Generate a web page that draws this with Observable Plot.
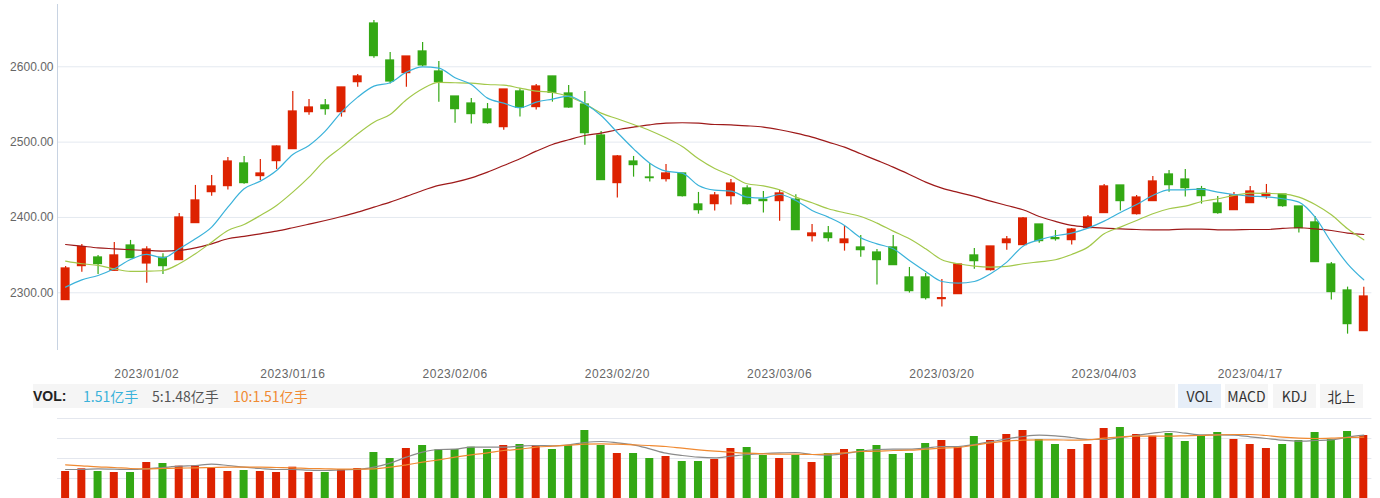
<!DOCTYPE html>
<html><head><meta charset="utf-8">
<script src="https://cdn.jsdelivr.net/npm/d3@7"></script>
<script src="https://cdn.jsdelivr.net/npm/@observablehq/plot@0.6"></script>
<style>
body{margin:0;background:#fff;font-family:"Liberation Sans",Arial,sans-serif;}
#wrap{position:relative;width:1380px;height:498px;overflow:hidden;background:#fff;}
#main{position:absolute;left:0;top:0;}
#vol{position:absolute;left:0;top:408px;}
#bar{position:absolute;left:33px;top:384px;width:1142px;height:24px;background:#f5f5f5;}
.lab{position:absolute;top:384px;height:24px;line-height:24px;font-size:14px;font-family:"Noto Sans CJK SC","Liberation Sans",sans-serif;white-space:nowrap;}
.btn{position:absolute;top:384px;height:24px;line-height:24px;width:43px;text-align:center;font-size:14px;color:#333;background:#f5f5f5;font-family:"Noto Sans CJK SC","Liberation Sans",sans-serif;}
</style></head>
<body><div id="wrap">
<div id="main"></div>
<div id="bar"></div>
<span class="lab" style="left:33px;color:#222;font-weight:bold;font-family:'Liberation Sans',Arial,sans-serif">VOL:</span>
<span class="lab" style="left:83px;color:#3ab2da">1.51亿手</span>
<span class="lab" style="left:152px;color:#555">5:1.48亿手</span>
<span class="lab" style="left:233px;color:#f08a32">10:1.51亿手</span>
<span class="btn" style="left:1178px;background:#e6eef8">VOL</span>
<span class="btn" style="left:1225px">MACD</span>
<span class="btn" style="left:1273px">KDJ</span>
<span class="btn" style="left:1320px">北上</span>
<div id="vol"></div>
</div>
<script>
const dates = ["2022-12-26","2022-12-27","2022-12-28","2022-12-29","2022-12-30","2023-01-03","2023-01-04","2023-01-05","2023-01-06","2023-01-09","2023-01-10","2023-01-11","2023-01-12","2023-01-13","2023-01-16","2023-01-17","2023-01-18","2023-01-19","2023-01-20","2023-01-30","2023-01-31","2023-02-01","2023-02-02","2023-02-03","2023-02-06","2023-02-07","2023-02-08","2023-02-09","2023-02-10","2023-02-13","2023-02-14","2023-02-15","2023-02-16","2023-02-17","2023-02-20","2023-02-21","2023-02-22","2023-02-23","2023-02-24","2023-02-27","2023-02-28","2023-03-01","2023-03-02","2023-03-03","2023-03-06","2023-03-07","2023-03-08","2023-03-09","2023-03-10","2023-03-13","2023-03-14","2023-03-15","2023-03-16","2023-03-17","2023-03-20","2023-03-21","2023-03-22","2023-03-23","2023-03-24","2023-03-27","2023-03-28","2023-03-29","2023-03-30","2023-03-31","2023-04-03","2023-04-04","2023-04-06","2023-04-07","2023-04-10","2023-04-11","2023-04-12","2023-04-13","2023-04-14","2023-04-17","2023-04-18","2023-04-19","2023-04-20","2023-04-21","2023-04-24","2023-04-25","2023-04-26"];

const tickDates = ["2023-01-03","2023-01-16","2023-02-06","2023-02-20","2023-03-06","2023-03-20","2023-04-03","2023-04-17"];
const tickLabels = ["2023/01/02","2023/01/16","2023/02/06","2023/02/20","2023/03/06","2023/03/20","2023/04/03","2023/04/17"];
const priceTicks = [2300, 2400, 2500, 2600];
const volTicks = [0.5, 1, 1.5, 2];

const open = [2290.3,2335.4,2346.9,2329.2,2362.8,2338.9,2346.5,2343.4,2392.5,2433.6,
2441.6,2471.7,2454.9,2474.8,2490.7,2539.8,2548.7,2539.8,2579.6,2657.5,
2608.4,2591.6,2620.4,2593.8,2560.6,2551.3,2543.4,2519.9,2567.3,2546.5,
2587.2,2564.6,2550,2508.8,2445.6,2474.3,2453.1,2450.9,2458.4,2417.3,
2417.7,2428.3,2438.5,2423.5,2421.7,2423.5,2375.2,2378.8,2365.9,2360.2,
2353.5,2360.2,2320.4,2320.4,2291.6,2298.2,2349.6,2330.1,2365.9,2363.3,
2390.7,2372.6,2369.9,2385.8,2405.8,2442.5,2404.4,2421.7,2457.1,2450.4,
2437.6,2418.6,2409.7,2419,2428.3,2430.5,2414.6,2393.4,2337.6,2303.1,2249.1];
const close = [2332.3,2360.6,2338.1,2349.6,2346.0,2357.5,2335.4,2400,2422.6,2441.2,
2474.3,2445.6,2458.4,2494.2,2540.7,2546,2543.8,2572.6,2587.2,2614.2,
2580.5,2613.7,2601.8,2579.6,2543.8,2537.2,2525.2,2569.9,2545.6,2573.9,
2565.5,2546,2511.9,2449.6,2481,2469.5,2452.2,2458.4,2428.3,2409.7,
2429.2,2445.1,2417.7,2421.7,2431.9,2383.2,2378.8,2372.6,2370.8,2356.6,
2343.4,2336.7,2302.2,2292.9,2292.9,2337.6,2342,2361.5,2370.8,2398.7,
2368.6,2371.2,2384,2400,2441.2,2421.7,2426.5,2447.8,2442.9,2438.9,
2428.3,2405.8,2429.2,2434.5,2431.4,2415,2385.8,2340.7,2300.9,2258.4,2295.1];
const high = [2335,2364.2,2349.6,2366.8,2369.5,2361,2351.8,2405.3,2442.5,2455.8,
2479.6,2481,2477,2495,2567.3,2556.6,2556.6,2572.6,2589.8,2661.5,
2619,2613.7,2632.3,2607,2560.6,2558,2551.3,2569.9,2570.8,2576.5,
2587.2,2575.2,2567.3,2514.2,2482.3,2481,2471.7,2470.4,2458.4,2433.2,
2433.2,2450.4,2442,2434.5,2435.8,2430.1,2390.7,2388,2388.5,2376.1,
2357.5,2376.1,2333.6,2325.7,2317.7,2337.6,2358.8,2361.5,2374.8,2400,
2390.7,2382.7,2385.4,2402.7,2443.8,2442.5,2429.2,2454.4,2462.4,2463.7,
2441.2,2427.9,2433.2,2441.2,2443.8,2430.5,2414.6,2401.3,2340.3,2307.5,2307.5];
const low = [2290.3,2327.4,2324.3,2329,2346,2312.8,2324.3,2343.4,2392.5,2428.3,
2436.3,2444.2,2449.1,2463.7,2490.7,2535.8,2535.8,2533.2,2573,2611.5,
2577,2573,2600,2553,2525.2,2523.9,2523.9,2515.9,2533.2,2542.5,
2553.1,2545.1,2496,2449.6,2425.7,2453.5,2446.9,2446.9,2427,2404.4,
2408.4,2416.4,2416.4,2405.8,2395.1,2383.2,2367.3,2367.3,2355.3,2347.3,
2310.2,2336.7,2299.6,2290.3,2281,2298.2,2331.4,2328.8,2356.6,2363.3,
2365.9,2368.6,2363.3,2385.8,2405.8,2408.4,2403.1,2421.7,2433.6,2427,
2417.7,2404.4,2409.7,2419,2424.3,2413.7,2379.2,2340.7,2290.3,2245.1,2249.1];

const ma5 = [2307.5,2317.2,2323,2331.8,2344.2,2350.9,2346.4,2358.4,2371.7,2387.2,
2413.7,2438,2448.2,2462.4,2483.6,2495.6,2514.6,2539.8,2559.7,2574.3,
2578.8,2592.9,2600,2598.2,2585.4,2576.5,2558.4,2551.8,2545.6,2553.1,
2557.1,2561.1,2550.9,2535.4,2512.8,2491.1,2472.1,2461.5,2458.8,2442.5,
2436.3,2435,2427,2425.7,2430.5,2422.6,2409.3,2400.4,2389.4,2373,
2365,2358.4,2342.9,2328.3,2315,2312.8,2315,2325.2,2340.7,2361.9,
2370.3,2375.7,2379.2,2385.8,2395.1,2406.6,2417.2,2429.2,2436.7,2436.7,
2437.6,2433.6,2430.5,2428.3,2427.4,2424.8,2420.3,2400.4,2367.2,2338.5,2317.2];
const ma10 = [2342,2338.5,2336.3,2331.8,2328.3,2328.7,2329.6,2338.5,2351.8,2367.2,
2382.7,2390.7,2402.6,2415.9,2433.6,2453.5,2476.5,2493.4,2511.1,2526.5,
2536.7,2556.2,2570.8,2579.2,2578.8,2578.3,2576.5,2575.7,2571.7,2567.7,
2565.9,2560.6,2550.9,2538.5,2531,2523.4,2515.5,2505.7,2494.2,2477.9,
2465,2455.7,2444.7,2442,2436.7,2427,2419.5,2411.5,2406.2,2401.3,
2392.5,2381.8,2371.7,2358.4,2343.8,2338.5,2335.4,2334.1,2335,2338.5,
2341.1,2343.8,2350.9,2360.6,2378.3,2387.2,2396,2404.9,2411.5,2415,
2421.2,2424.8,2429.2,2432.3,2431.9,2431.4,2427,2417.2,2403.5,2384.9,2370.3];
const maLong = [2364.1,2361.9,2359.7,2358.4,2357.1,2356.2,2355.3,2356.2,2359.7,2365,
2371.7,2374.8,2378.3,2381.8,2386.3,2391.1,2396,2401.3,2407.1,2413.7,
2420.3,2427.9,2435.8,2442.5,2446.9,2452.6,2460.2,2469,2477.9,2488,
2496.9,2503.1,2508.8,2511.9,2516.4,2519.9,2523,2525.2,2525.7,2525.2,
2523.4,2523,2521.7,2519.9,2516.4,2511.9,2506.6,2500,2493.4,2484.5,
2475.7,2466.8,2457.1,2446.9,2438.9,2433.2,2427.9,2421.7,2415.9,2410.2,
2401.3,2394.7,2389.4,2387.2,2385.8,2384.9,2384,2383.6,2383.6,2384.5,
2384.5,2383.6,2383.6,2384,2384,2385.4,2386.3,2384.9,2382.7,2379.2,2377.4];

const volume = [0.675,0.742,0.675,0.65,0.65,0.9,0.875,0.808,0.817,0.75,
0.675,0.7,0.675,0.65,0.783,0.65,0.65,0.725,0.75,1.15,
1.0,1.25,1.325,1.217,1.225,1.283,1.225,1.325,1.35,1.325,
1.225,1.325,1.7,1.325,1.125,1.125,1.0,1.05,0.925,0.925,
0.975,1.25,1.275,1.075,1.0,1.075,0.9,1.125,1.225,1.225,
1.325,1.1,1.125,1.375,1.45,1.275,1.55,1.45,1.6,1.7,
1.475,1.35,1.225,1.35,1.75,1.775,1.6,1.558,1.625,1.425,
1.575,1.65,1.475,1.35,1.25,1.35,1.45,1.65,1.475,1.675,1.575];
const volMa5 = [0.725,0.725,0.742,0.733,0.725,0.742,0.775,0.808,0.825,0.858,
0.825,0.783,0.75,0.725,0.725,0.708,0.7,0.717,0.725,0.783,
0.883,1.033,1.158,1.225,1.233,1.283,1.283,1.283,1.308,1.325,
1.317,1.342,1.4,1.425,1.392,1.342,1.242,1.133,1.075,1.033,
1.017,1.058,1.1,1.125,1.142,1.15,1.1,1.083,1.125,1.183,
1.225,1.233,1.233,1.258,1.3,1.3,1.35,1.417,1.492,1.55,
1.583,1.567,1.525,1.475,1.475,1.525,1.575,1.633,1.675,1.633,
1.592,1.592,1.583,1.542,1.5,1.458,1.433,1.45,1.467,1.533,1.583];
const volMa10 = [0.842,0.817,0.792,0.775,0.75,0.742,0.75,0.758,0.767,0.775,
0.783,0.783,0.783,0.775,0.767,0.75,0.742,0.733,0.733,0.742,
0.783,0.842,0.908,0.967,1.033,1.092,1.142,1.2,1.233,1.283,
1.308,1.333,1.358,1.367,1.358,1.342,1.325,1.3,1.258,1.217,
1.183,1.158,1.133,1.117,1.108,1.108,1.1,1.117,1.142,1.175,
1.183,1.2,1.208,1.233,1.258,1.275,1.333,1.392,1.433,1.458,
1.467,1.467,1.458,1.467,1.508,1.542,1.558,1.558,1.558,1.567,
1.575,1.592,1.6,1.6,1.575,1.533,1.508,1.5,1.508,1.525,1.533];

const RED = "#dd2200", GREEN = "#33a814";
const rows = dates.map((d, i) => ({date: d, open: open[i], close: close[i], high: high[i], low: low[i],
  ma5: ma5[i], ma10: ma10[i], maLong: maLong[i], vol: volume[i], vma5: volMa5[i], vma10: volMa10[i],
  col: close[i] >= open[i] ? RED : GREEN}));

const font = "'Liberation Sans', Arial, sans-serif";

const main = Plot.plot({
  width: 1380, height: 380,
  marginLeft: 57, marginRight: 8.6, marginTop: 4, marginBottom: 31,
  style: {fontFamily: font, fontSize: "12px", background: "transparent"},
  x: {type: "band", domain: dates, paddingInner: 0.445, paddingOuter: 0.2225, round: false},
  y: {domain: [2224.7, 2682.7]},
  color: {type: "identity"},
  marks: [
    Plot.gridY(priceTicks, {stroke: "#e4e9f0", strokeOpacity: 1}),
    Plot.frame({anchor: "left", stroke: "#c8d3e2"}),
    Plot.axisY({ticks: priceTicks, tickFormat: d => d.toFixed(2), tickSize: 0, tickPadding: 4, color: "#666", label: null}),
    Plot.axisX({ticks: tickDates, tickFormat: d => tickLabels[tickDates.indexOf(d)], tickSize: 0, tickPadding: 20, color: "#666", label: null}),
    Plot.ruleX(rows, {x: "date", y1: "low", y2: "high", stroke: "col", strokeWidth: 1.2}),
    Plot.barY(rows, {x: "date", y1: d => Math.min(d.open, d.close), y2: d => Math.max(d.open, d.close), fill: "col", insetTop: -0.6, insetBottom: -0.6}),
    Plot.line(rows, {x: "date", y: "maLong", stroke: "#9e1a1a", strokeWidth: 1.2, curve: "monotone-x"}),
    Plot.line(rows, {x: "date", y: "ma10", stroke: "#a2c84a", strokeWidth: 1.2, curve: "monotone-x"}),
    Plot.line(rows, {x: "date", y: "ma5", stroke: "#3ab2da", strokeWidth: 1.2, curve: "monotone-x"})
  ]
});
main.querySelectorAll('g[aria-label="x-axis tick label"] text').forEach(t => t.setAttribute("letter-spacing", "0.5"));
document.getElementById("main").appendChild(main);

const vol = Plot.plot({
  width: 1380, height: 90,
  marginLeft: 57, marginRight: 8.6, marginTop: 10, marginBottom: 0,
  style: {fontFamily: font, fontSize: "12px", background: "transparent"},
  x: {type: "band", domain: dates, paddingInner: 0.507, paddingOuter: 0.2535, round: false, axis: null},
  y: {domain: [0, 2], axis: null},
  color: {type: "identity"},
  marks: [
    Plot.gridY(volTicks, {stroke: "#e4e7ee", strokeOpacity: 1}),
    Plot.barY(rows, {x: "date", y: "vol", fill: "col"}),
    Plot.line(rows, {x: "date", y: "vma5", stroke: "#8a8a8a", strokeWidth: 1.2, curve: "monotone-x"}),
    Plot.line(rows, {x: "date", y: "vma10", stroke: "#f08a32", strokeWidth: 1.2, curve: "monotone-x"})
  ]
});
document.getElementById("vol").appendChild(vol);
</script>
</body></html>
